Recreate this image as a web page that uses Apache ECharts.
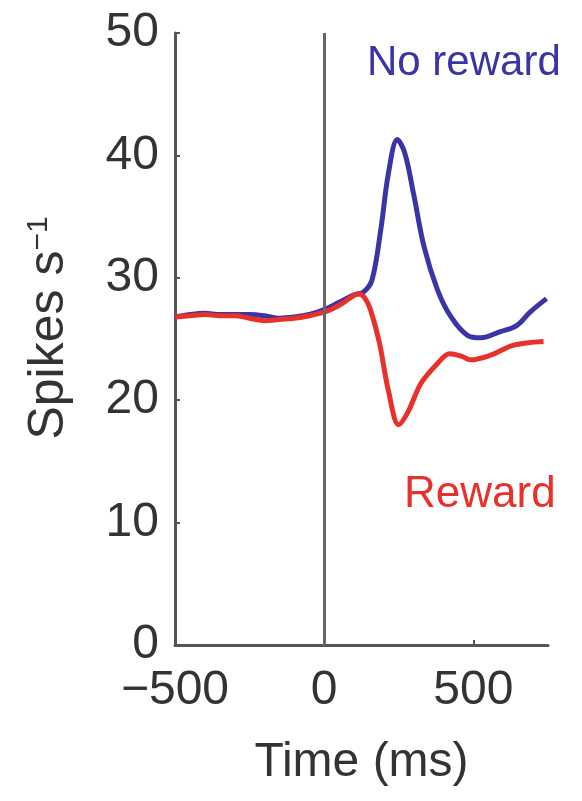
<!DOCTYPE html>
<html>
<head>
<meta charset="utf-8">
<script src="https://cdn.jsdelivr.net/npm/echarts@6/dist/echarts.min.js"></script>
<style>
html,body{margin:0;padding:0;background:#fff;}
#chart{width:582px;height:801px;}
</style>
</head>
<body>
<div id="chart"></div>
<script>
// Data
const blueTimes = [-500,-450,-400,-350,-300,-250,-200,-150,-100,-50,0,50,100,130,160,190,215,245,270,300,335,380,425,480,525,590,645,690,745];
const blueValues = [26.8,27.0,27.1,27.0,27.0,27.0,26.9,26.7,26.8,27.0,27.4,28.0,28.6,28.8,29.8,34.0,38.5,41.3,40.2,36.8,32.5,29.0,26.8,25.3,25.1,25.6,26.1,27.2,28.3];
const redTimes = [-500,-450,-400,-350,-300,-250,-200,-150,-100,-50,0,30,60,90,115,135,155,185,215,250,280,325,380,420,460,490,560,635,735];
const redValues = [26.8,26.9,27.0,26.9,26.9,26.7,26.5,26.6,26.7,26.9,27.2,27.5,27.9,28.4,28.7,28.4,27.4,24.7,20.8,18.0,19.0,21.4,23.0,23.8,23.6,23.3,23.7,24.5,24.8];
const xTicks = [-500, 0, 500];
const yTicks = [0, 10, 20, 30, 40, 50];
const blueName = 'No reward';
const redName = 'Reward';
const xTitle = 'Time (ms)';
const yTitleMain = 'Spikes s';
const yTitleSup = '\u22121';

const blue = '#3a34a6';
const red = '#e8312b';
const axisGray = '#555555';
const textGray = '#333333';
const font = 'Liberation Sans, Arial, Helvetica, sans-serif';

const chart = echarts.init(document.getElementById('chart'));
chart.setOption({
  backgroundColor: '#ffffff',
  animation: false,
  grid: { left: 175, right: 34, top: 33, bottom: 156, containLabel: false, outerBoundsMode: 'none' },
  xAxis: {
    type: 'value', min: -500, max: 750, interval: 500,
    splitLine: { show: false },
    axisLine: { onZero: false, lineStyle: { color: axisGray, width: 3 } },
    axisTick: { inside: true, length: 5, customValues: xTicks, lineStyle: { color: axisGray, width: 2 } },
    axisLabel: {
      customValues: xTicks,
      margin: 22, fontSize: 48, fontFamily: font, color: textGray,
      formatter: v => (v < 0 ? '\u2212' + Math.abs(v) : String(v))
    },
    name: xTitle, nameLocation: 'middle', nameGap: 94,
    nameTextStyle: { fontSize: 48, fontFamily: font, color: textGray }
  },
  yAxis: {
    type: 'value', min: 0, max: 50, interval: 10,
    splitLine: { show: false },
    axisLine: { show: true, onZero: false, lineStyle: { color: axisGray, width: 3 } },
    axisTick: { show: true, inside: true, length: 5, customValues: yTicks, lineStyle: { color: axisGray, width: 2 } },
    axisLabel: { margin: 16, fontSize: 48, fontFamily: font, color: textGray, customValues: yTicks }
  },
  series: [
    {
      name: blueName, type: 'line', smooth: 0.35, symbol: 'none',
      data: blueTimes.map((t, i) => [t, blueValues[i]]),
      lineStyle: { color: blue, width: 5 },
      markLine: {
        silent: true, symbol: ['none', 'none'], label: { show: false },
        lineStyle: { color: '#666', width: 3, type: 'solid' },
        data: [{ xAxis: 0 }]
      },
      z: 2
    },
    {
      name: redName, type: 'line', smooth: 0.35, symbol: 'none',
      data: redTimes.map((t, i) => [t, redValues[i]]),
      lineStyle: { color: red, width: 5 },
      z: 3
    }
  ],
  graphic: [
    { type: 'text', left: 367, top: 42, style: { text: blueName, fontSize: 42, fontFamily: font, fill: blue } },
    { type: 'text', left: 404, top: 473, style: { text: redName, fontSize: 44, fontFamily: font, fill: red } },
    { type: 'text', x: 49, y: 328, rotation: Math.PI / 2,
      style: {
        text: yTitleMain + '{sup|' + yTitleSup + '}',
        fontSize: 50, fontFamily: font, fill: textGray, align: 'center', verticalAlign: 'middle',
        rich: { sup: { fontSize: 30, fontFamily: font, fill: textGray, verticalAlign: 'top' } }
      } }
  ]
});
</script>
</body>
</html>
